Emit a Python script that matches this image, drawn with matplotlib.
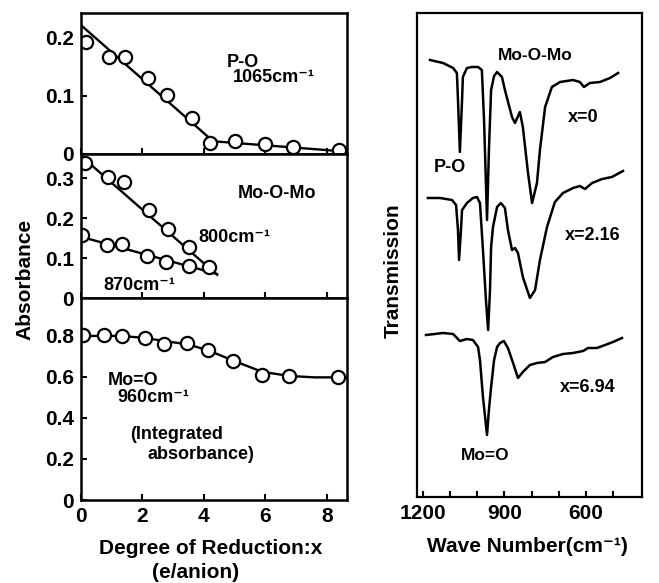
import matplotlib
matplotlib.use('Agg')
import matplotlib.pyplot as plt

plt.rcParams['font.family'] = ['Liberation Sans', 'DejaVu Sans']
plt.rcParams['font.weight'] = 'bold'

# left: degree of reduction x (e/anion) vs absorbance
po_x = [0.16, 0.91, 1.43, 2.18, 2.80, 3.62, 4.20, 5.02, 5.99, 6.91, 8.40]
po_abs = [0.193, 0.167, 0.167, 0.131, 0.102, 0.062, 0.019, 0.022, 0.017, 0.012, 0.007]
po_fit_x = [0, 4.3, 8.66]
po_fit_abs = [0.222, 0.022, 0.004]

mo800_x = [0.13, 0.88, 1.40, 2.21, 2.83, 3.52]
mo800_abs = [0.338, 0.303, 0.290, 0.220, 0.173, 0.128]
mo800_fit_x = [0, 4.43]
mo800_fit_abs = [0.355, 0.058]

mo870_x = [0.03, 0.85, 1.34, 2.15, 2.77, 3.52, 4.17]
mo870_abs = [0.158, 0.133, 0.135, 0.105, 0.090, 0.080, 0.078]
mo870_fit_x = [0, 4.43]
mo870_fit_abs = [0.153, 0.060]

moo_x = [0.07, 0.75, 1.34, 2.08, 2.70, 3.45, 4.14, 4.95, 5.90, 6.78, 8.37]
moo_abs = [0.805, 0.805, 0.800, 0.790, 0.760, 0.766, 0.730, 0.680, 0.610, 0.605, 0.600]
moo_fit_x = [0, 1.3, 2.1, 2.7, 3.45, 4.14, 4.95, 5.9, 6.78, 7.6, 8.66]
moo_fit_abs = [0.80, 0.80, 0.79, 0.775, 0.76, 0.73, 0.68, 0.625, 0.605, 0.598, 0.598]

# right: IR spectra, wave number (cm-1) vs transmission (arbitrary units)
wn_x0 = [1174, 1126, 1089, 1075, 1071, 1064, 1056, 1053, 1038, 1019, 997, 983, 975,
         964, 957, 949, 938, 927, 909, 898, 872, 861, 843, 832, 813, 798, 780, 769,
         750, 725, 695, 647, 622, 607, 585, 548, 511, 481]
tr_x0 = [437, 434, 429, 424, 397, 345, 397, 420, 429, 430, 430, 427, 377,
         277, 347, 407, 421, 425, 420, 407, 380, 374, 385, 370, 324, 294, 314, 347,
         390, 410, 415, 417, 415, 410, 414, 415, 419, 424]

wn_x216 = [1182, 1137, 1093, 1078, 1071, 1067, 1060, 1056, 1038, 1016, 1001, 990, 979,
           968, 960, 953, 949, 942, 927, 913, 898, 887, 872, 861, 850, 832, 806, 787,
           769, 743, 714, 684, 647, 622, 603, 577, 540, 504, 463]
tr_x216 = [299, 299, 297, 292, 267, 237, 267, 287, 294, 299, 300, 294, 247,
           197, 167, 207, 250, 270, 290, 294, 289, 267, 247, 249, 244, 220, 199, 207,
           237, 270, 295, 304, 309, 311, 308, 314, 318, 320, 326]

wn_x694 = [1189, 1126, 1089, 1064, 1038, 1016, 997, 990, 979, 964, 957, 949, 938,
           927, 916, 902, 887, 868, 850, 832, 806, 780, 750, 721, 684, 647, 610,
           592, 559, 529, 500, 467]
tr_x694 = [162, 164, 163, 156, 158, 157, 150, 137, 100, 62, 87, 110, 137,
           150, 154, 156, 149, 134, 119, 125, 132, 134, 135, 140, 143, 144, 146,
           149, 149, 152, 155, 159]

x_ticks = [0, 2, 4, 6, 8]
wn_ticks = [1200, 1100, 1000, 900, 800, 700, 600, 500]
wn_labels = ['1200', '', '', '900', '', '', '600', '']


def style_axes(ax, lw=1.8):
  for side in ax.spines.values():
    side.set_linewidth(lw)
  ax.tick_params(direction='in', length=4, width=1.5, labelsize=15, pad=5)


def plot_po(ax):
  ax.plot(po_fit_x, po_fit_abs, color='black', lw=1.7)
  ax.plot(po_x, po_abs, 'o', ms=9.5, mfc='white', mec='black', mew=1.6)
  ax.text(4.76, 0.157, 'P-O', fontsize=13, va='center')
  ax.text(4.95, 0.131, '1065cm⁻¹', fontsize=13, va='center')
  ax.set_xlim(0, 8.66)
  ax.set_ylim(0, 0.243)
  ax.set_yticks([0, 0.1, 0.2])
  ax.set_yticklabels(['0', '0.1', '0.2'])
  ax.set_xticks(x_ticks)
  ax.tick_params(labelbottom=False)


def plot_mo_o_mo(ax):
  ax.plot(mo800_fit_x, mo800_fit_abs, color='black', lw=1.7)
  ax.plot(mo870_fit_x, mo870_fit_abs, color='black', lw=1.7)
  ax.plot(mo800_x, mo800_abs, 'o', ms=9.5, mfc='white', mec='black', mew=1.6)
  ax.plot(mo870_x, mo870_abs, 'o', ms=9.5, mfc='white', mec='black', mew=1.6)
  ax.text(6.38, 0.2625, 'Mo-O-Mo', fontsize=13, ha='center', va='center')
  ax.text(3.81, 0.1525, '800cm⁻¹', fontsize=13, va='center')
  ax.text(0.72, 0.0325, '870cm⁻¹', fontsize=13, va='center')
  ax.set_xlim(0, 8.66)
  ax.set_ylim(0, 0.36)
  ax.set_yticks([0, 0.1, 0.2, 0.3])
  ax.set_yticklabels(['0', '0.1', '0.2', '0.3'])
  ax.set_xticks(x_ticks)
  ax.tick_params(labelbottom=False)


def plot_mo_o(ax):
  ax.plot(moo_fit_x, moo_fit_abs, color='black', lw=1.7)
  ax.plot(moo_x, moo_abs, 'o', ms=9.5, mfc='white', mec='black', mew=1.6)
  ax.text(0.88, 0.585, 'Mo=O', fontsize=13, va='center')
  ax.text(1.2, 0.50, '960cm⁻¹', fontsize=13, va='center')
  ax.text(1.6, 0.317, '(Integrated', fontsize=13, va='center')
  ax.text(2.16, 0.22, 'absorbance)', fontsize=13, va='center')
  ax.set_xlim(0, 8.66)
  ax.set_ylim(0, 0.985)
  ax.set_yticks([0, 0.2, 0.4, 0.6, 0.8])
  ax.set_yticklabels(['0', '0.2', '0.4', '0.6', '0.8'])
  ax.set_xticks(x_ticks)
  ax.set_xticklabels([str(t) for t in x_ticks])


def plot_spectra(ax):
  ax.plot(wn_x0, tr_x0, color='black', lw=1.8)
  ax.plot(wn_x216, tr_x216, color='black', lw=1.8)
  ax.plot(wn_x694, tr_x694, color='black', lw=1.8)
  ax.text(787, 442, 'Mo-O-Mo', fontsize=12.5, ha='center', va='center')
  ax.text(610, 380, 'x=0', fontsize=13, ha='center', va='center')
  ax.text(1100, 329, 'P-O', fontsize=13, ha='center', va='center')
  ax.text(574, 262, 'x=2.16', fontsize=13, ha='center', va='center')
  ax.text(592, 110, 'x=6.94', fontsize=13, ha='center', va='center')
  ax.text(972, 42, 'Mo=O', fontsize=12.5, ha='center', va='center')
  ax.set_xlim(1222, 393)
  ax.set_ylim(0, 484)
  ax.set_xticks(wn_ticks)
  ax.set_xticklabels(wn_labels)
  ax.set_yticks([])


def run():
  fig = plt.figure(figsize=(6.59, 5.83), dpi=100)
  W, H = 659.0, 583.0

  # left column: three stacked panels sharing the x range
  ax1 = fig.add_axes([81 / W, 1 - 154 / H, 266 / W, 141 / H])
  ax2 = fig.add_axes([81 / W, 1 - 298 / H, 266 / W, 144 / H])
  ax3 = fig.add_axes([81 / W, 1 - 500 / H, 266 / W, 202 / H])
  ax4 = fig.add_axes([417 / W, 1 - 497 / H, 225 / W, 484 / H])

  for ax in (ax1, ax2, ax3):
    style_axes(ax)
  style_axes(ax4, lw=1.6)

  plot_po(ax1)
  plot_mo_o_mo(ax2)
  plot_mo_o(ax3)
  plot_spectra(ax4)

  fig.text(25 / W, 1 - 279 / H, 'Absorbance', rotation=90, fontsize=15,
           ha='center', va='center')
  fig.text(211 / W, 1 - 549 / H, 'Degree of Reduction:x', fontsize=15,
           ha='center', va='center')
  fig.text(196 / W, 1 - 573 / H, '(e/anion)', fontsize=15,
           ha='center', va='center')
  fig.text(393 / W, 1 - 271 / H, 'Transmission', rotation=90, fontsize=15,
           ha='center', va='center')
  fig.text(527 / W, 1 - 547 / H, 'Wave Number(cm⁻¹)', fontsize=15,
           ha='center', va='center')

  fig.savefig('out.png', dpi=100)


run()
